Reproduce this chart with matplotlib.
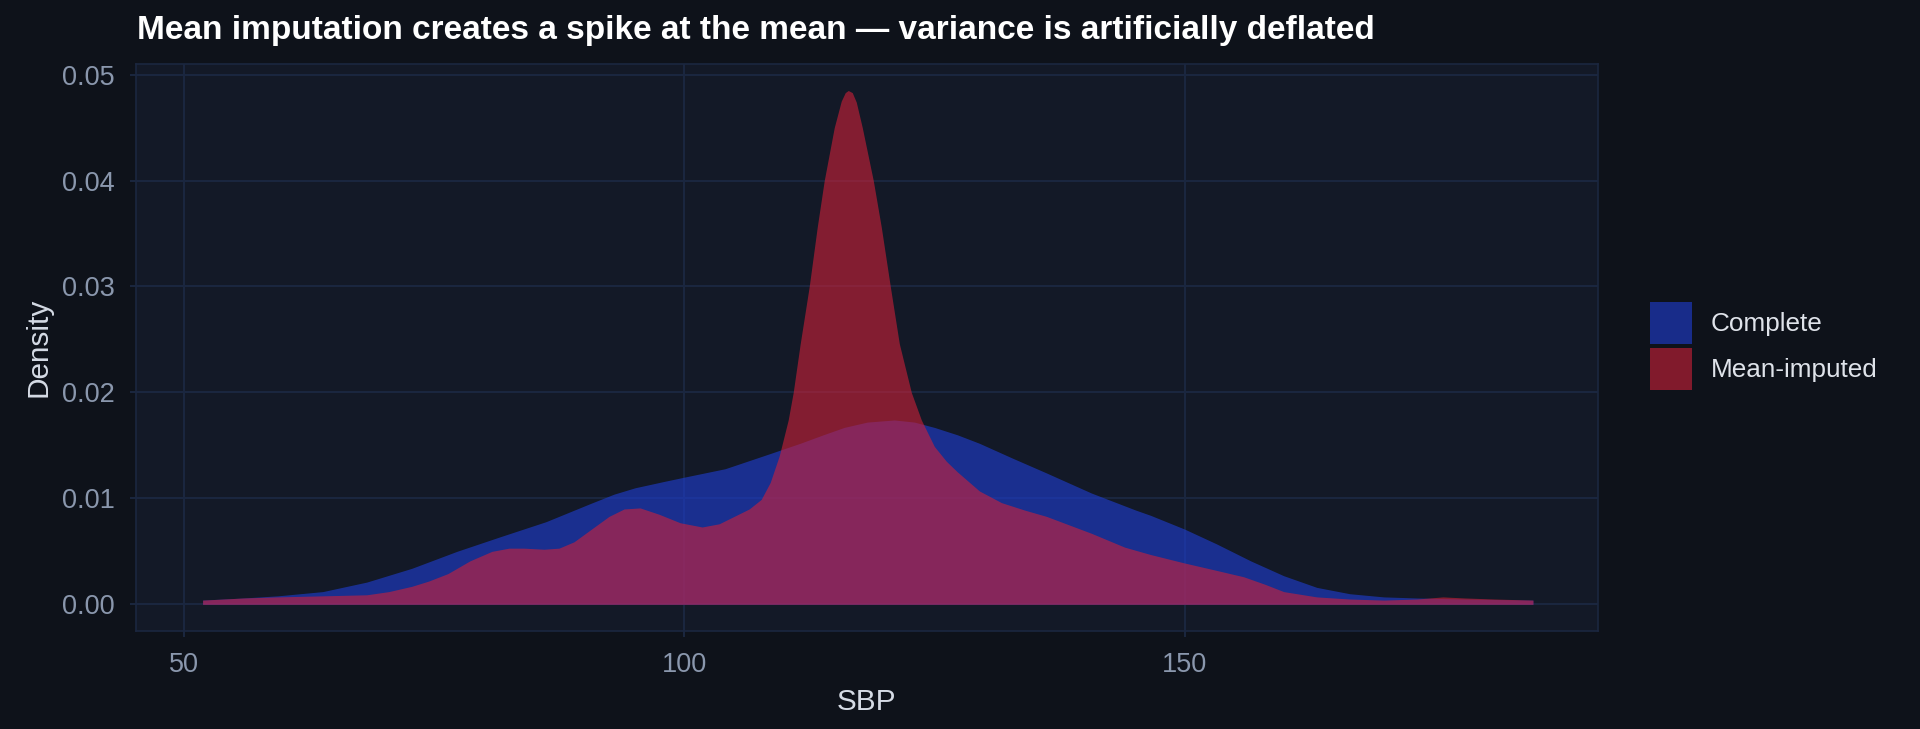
import matplotlib
matplotlib.use("Agg")
import matplotlib.pyplot as plt

# ---- data ----
series_names = ["Complete", "Mean-imputed"]

sbp_complete = [51.9, 56, 59.4, 63.9, 68.3, 72.8, 77.3, 81.7, 86.2, 90.6, 93, 95.1, 98, 100,
                104.1, 108.5, 111.6, 113.9, 116, 118.3, 121, 123, 125, 127.3, 129.5, 132.8,
                136.2, 140.7, 145.1, 146.6, 150, 153.2, 156.6, 159.9, 163.2, 166.5, 169.9,
                173.2, 178, 184.8]
dens_complete = [0.0004, 0.0006, 0.0008, 0.0012, 0.0021, 0.0034, 0.0050, 0.0064, 0.0078, 0.0095,
                 0.0104, 0.0110, 0.0116, 0.0120, 0.0128, 0.0142, 0.0152, 0.0160, 0.0167, 0.0172,
                 0.0174, 0.0172, 0.0167, 0.0160, 0.0152, 0.0138, 0.0124, 0.0105, 0.0089, 0.0084,
                 0.0071, 0.0057, 0.0041, 0.0027, 0.0016, 0.0010, 0.0007, 0.0006, 0.0005, 0.0004]

sbp_imputed = [51.9, 56, 59.4, 63.9, 68.3, 70.5, 72.8, 74.5, 76.4, 78.6, 80.8, 82.5, 84.0, 86,
               87.5, 89, 90.6, 92.5, 94, 95.6, 97.5, 99.6, 101.8, 103.5, 105.0, 106.5, 107.7,
               108.6, 109.5, 110.4, 110.9, 111.6, 112.5, 113.3, 114.0, 115.0, 115.7, 116.1,
               116.4, 116.8, 117.2, 117.8, 118.9, 119.7, 120.6, 121.5, 122.7, 123.7, 125.0,
               126.2, 127.3, 129.5, 131.7, 134, 136.2, 140.7, 144, 146.6, 150, 153.2, 155.9,
               158, 159.9, 163.2, 166.5, 169.9, 173.2, 175.8, 178, 181, 184.8]
dens_imputed = [0.0004, 0.0006, 0.0007, 0.0008, 0.0009, 0.0012, 0.0017, 0.0022, 0.0029, 0.0041,
                0.0050, 0.0053, 0.0053, 0.0052, 0.0053, 0.0059, 0.0070, 0.0083, 0.0090, 0.0091,
                0.0085, 0.0077, 0.0073, 0.0076, 0.0083, 0.0090, 0.0099, 0.0115, 0.0140, 0.0174,
                0.0200, 0.0246, 0.0300, 0.0356, 0.0400, 0.0450, 0.0475, 0.0483, 0.0485, 0.0483,
                0.0474, 0.0450, 0.0400, 0.0356, 0.0300, 0.0246, 0.0200, 0.0174, 0.0149, 0.0135,
                0.0125, 0.0107, 0.0096, 0.0089, 0.0083, 0.0067, 0.0054, 0.0047, 0.0039, 0.0032,
                0.0026, 0.0019, 0.0012, 0.0007, 0.0005, 0.0004, 0.0005, 0.0007, 0.0006, 0.0005,
                0.0004]

x_ticks = [50, 100, 150]
y_ticks = [0.00, 0.01, 0.02, 0.03, 0.04, 0.05]
y_tick_labels = ["0.00", "0.01", "0.02", "0.03", "0.04", "0.05"]

title = "Mean imputation creates a spike at the mean \u2014 variance is artificially deflated"
x_label = "SBP"
y_label = "Density"

# ---- style ----
FIG_BG = "#0e121a"
PANEL_BG = "#131927"
GRID = "#1b2740"
TICK_TXT = "#8a97ad"
AXIS_TXT = "#d5dbe5"
COL_BLUE = "#1f3fd6"
COL_RED = "#cf2139"
ALPHA = 0.6

plt.rcParams["font.family"] = ["Liberation Sans", "DejaVu Sans"]

fig = plt.figure(figsize=(19.2, 7.29), dpi=100, facecolor=FIG_BG)
ax = fig.add_axes([0.0708, 0.1344, 0.8323 - 0.0708, 0.9122 - 0.1344])
ax.set_facecolor(PANEL_BG)

h1 = ax.fill_between(sbp_complete, 0, dens_complete, color=COL_BLUE, alpha=ALPHA,
                     linewidth=0, label=series_names[0], zorder=2)
h2 = ax.fill_between(sbp_imputed, 0, dens_imputed, color=COL_RED, alpha=ALPHA,
                     linewidth=0, label=series_names[1], zorder=3)

ax.set_xlim(45.24, 191.3)
ax.set_ylim(-0.00252, 0.0510)
ax.set_xticks(x_ticks)
ax.set_yticks(y_ticks)
ax.set_yticklabels(y_tick_labels)
ax.grid(True, color=GRID, linewidth=1.4, zorder=0)
ax.set_axisbelow(True)
for s in ax.spines.values():
    s.set_color(GRID)
    s.set_linewidth(1.2)
ax.tick_params(axis="both", colors=GRID, length=4.5, width=1.4, labelsize=19.5,
               labelcolor=TICK_TXT, pad=10.5)

ax.set_xlabel(x_label, fontsize=21.4, color=AXIS_TXT, labelpad=7)
ax.set_ylabel(y_label, fontsize=21.4, color=AXIS_TXT, labelpad=7)

fig.text(0.0713, 1 - 30.5 / 729, title, fontsize=24, fontweight="bold", color="white",
         ha="left", va="center")

leg = fig.legend(handles=[h1, h2], loc="center left", bbox_to_anchor=(0.8594, 0.5254),
                 frameon=False, fontsize=18.8, handlelength=1.61, handleheight=2.1,
                 labelspacing=0.17, handletextpad=0.72, borderpad=0, borderaxespad=0)
for t in leg.get_texts():
    t.set_color("#dfe3ea")

fig.savefig("out.png", dpi=100, facecolor=FIG_BG)
